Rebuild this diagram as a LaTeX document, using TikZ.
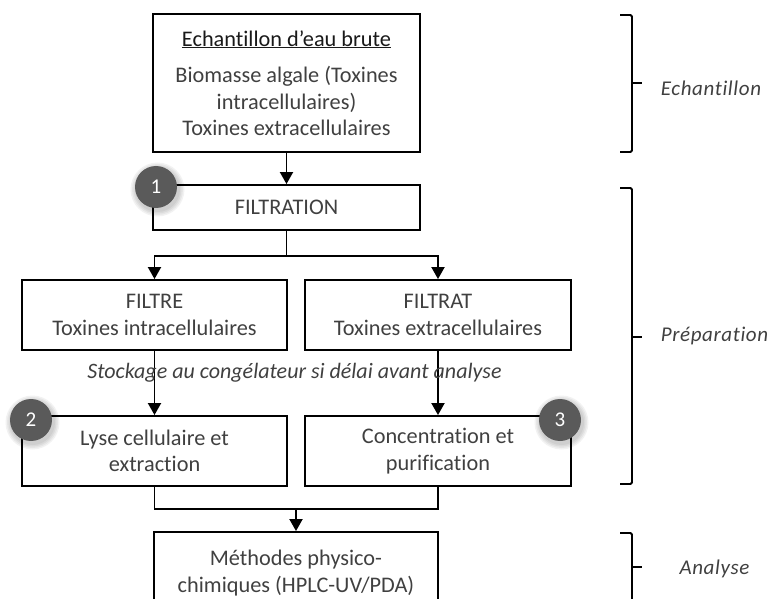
\documentclass[tikz,border=0pt]{standalone}
\usepackage{fontspec}
\setmainfont{Carlito}[RawFeature=-liga]
\newfontfamily\sidefont{Carlito}[LetterSpace=3,RawFeature=-liga]
\usetikzlibrary{arrows.meta}
\definecolor{ink}{HTML}{404040}
\definecolor{badgegray}{HTML}{5A5A5A}
\begin{document}
\begin{tikzpicture}[x=1pt,y=-1pt,
  box/.style={draw=black, line width=1.9pt, rectangle, align=center, inner sep=0pt,
    text=ink, font=\fontsize{22.3}{26.5}\selectfont},
  link/.style={line width=1.9pt},
  arrow/.style={link, -{Triangle[length=12pt,width=13pt]}},
  badge/.style={circle, fill=badgegray, text=white, minimum size=42pt, inner sep=0pt,
    font=\fontsize{21}{21}\selectfont},
  brace/.style={line width=1.8pt, rounded corners=1.5pt},
  phase/.style={text=ink, font=\fontsize{21}{21}\sidefont\itshape},
  note/.style={text=ink, font=\fontsize{22}{22}\selectfont\itshape}
]
\useasboundingbox (0,0) rectangle (769,599);
\clip (0,0) rectangle (769,599);

% process boxes
\node[box, minimum width=267pt, minimum height=138pt] (top) at (286.5,83)
  {{\color{black!90}\underline{Echantillon d’eau brute}}\\[10pt]
   Biomasse algale (Toxines\\ intracellulaires)\\ Toxines extracellulaires};
\node[box, minimum width=267pt, minimum height=45pt] (filt) at (286.5,207.5) {FILTRATION};
\node[box, minimum width=265pt, minimum height=70pt] (filtre) at (154.5,315)
  {FILTRE\\ Toxines intracellulaires};
\node[box, minimum width=266pt, minimum height=70pt] (filtrat) at (438,315)
  {FILTRAT\\ Toxines extracellulaires};
\node[box, minimum width=265pt, minimum height=70pt] (lyse) at (154.5,451)
  {Lyse cellulaire et\\ extraction};
\node[box, minimum width=266pt, minimum height=70pt] (conc) at (438,451)
  {Concentration et\\ purification};
\node[box, minimum width=284pt, minimum height=82pt] (meth) at (296,573)
  {Méthodes physico-\\ chimiques (HPLC-UV/PDA)};

% connectors
\draw[arrow] (top) -- (filt);
\draw[link] (filt.south) -- ++(0,25) coordinate (fork);
\draw[arrow] (fork) -| (filtre.north);
\draw[arrow] (fork) -| (filtrat.north);
\draw[arrow] (filtre) -- (lyse);
\draw[arrow] (filtrat) -- (conc);
\coordinate (join) at (296,509);
\draw[link] (lyse.south) |- (join) -| (conc.south);
\draw[arrow] (join) -- (meth.north);

\node[note] (store) at (294.5,373) {Stockage au congélateur si délai avant analyse};

% numbered step badges with soft shadows
\foreach \cx/\cy in {156/187, 31/420, 560/420}{
  \foreach \r in {27,25.5,24,22.5}
    \fill[black, opacity=0.05] (\cx+1.5,\cy+2.5) circle (\r pt);
}
\node[badge] (b1) at (156,187) {1};
\node[badge] (b2) at (31,420) {2};
\node[badge] (b3) at (560,420) {3};

% phase braces
\draw[brace] (620,15) -- (632,15) -- (632,152) -- (620,152);
\draw[brace] (632,83) coordinate (t1) -- (642,83);
\draw[brace] (620,188) -- (632,188) -- (632,484) -- (620,484);
\draw[brace] (632,337) coordinate (t2) -- (642,337);
\draw[brace] (620,533) -- (632,533) -- (632,615);
\draw[brace] (632,567) coordinate (t3) -- (642,567);

\node[phase] (p1) at (711,88) {Echantillon};
\node[phase] (p2) at (714.5,336) {Préparation};
\node[phase] (p3) at (714.5,569) {Analyse};
\end{tikzpicture}
\end{document}
